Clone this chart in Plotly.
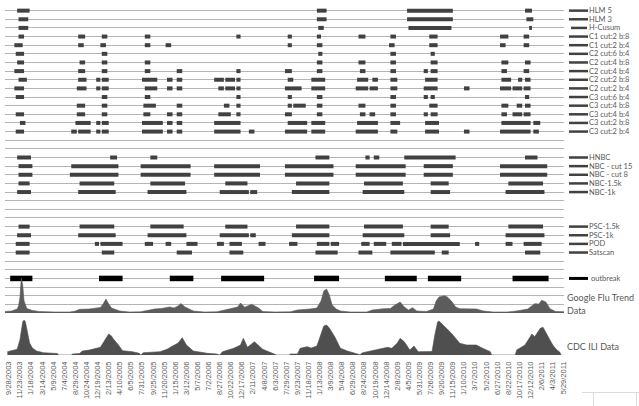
import numpy as np
import pandas as pd
import plotly.graph_objects as go

# ---------------- data ----------------
WEEK0 = pd.Timestamp("2003-09-28")          # first weekly category
LAST_TICK = pd.Timestamp("2011-05-29")

# alarm periods per method, as (first week, last week) indices since WEEK0
hlm5 = [(6, 15), (222, 229), (287, 320), (372, 377)]
hlm3 = [(7, 14), (222, 229), (287, 320), (373, 378)]
hcusum = [(7, 14), (223, 227), (288, 319), (375, 377)]
c1_2_8 = [(7, 11), (50, 55), (67, 71), (98, 102), (164, 167), (201, 204), (222, 225), (252, 257),
          (275, 279), (303, 309), (354, 360), (371, 375)]
c1_2_4 = [(4, 10), (50, 54), (66, 70), (98, 102), (113, 117), (201, 204), (222, 226), (274, 278),
          (303, 309), (354, 358), (371, 375)]
c2_6_4 = [(5, 11), (67, 71), (223, 226), (275, 279), (304, 307)]
c2_4_8 = [(6, 11), (51, 55), (67, 71), (98, 102), (222, 226), (252, 257), (275, 279), (304, 309),
          (355, 360), (372, 376)]
c2_4_4 = [(4, 11), (50, 55), (67, 71), (98, 102), (121, 125), (164, 167), (199, 204), (222, 226),
          (253, 257), (275, 279), (299, 302), (304, 309), (355, 359), (371, 375)]
c2_2_8 = [(7, 13), (50, 56), (63, 66), (67, 72), (96, 107), (114, 118), (121, 125), (148, 155),
          (156, 163), (164, 167), (201, 205), (218, 228), (251, 259), (262, 266), (275, 280),
          (300, 309), (355, 362), (367, 370), (372, 376)]
c2_2_4 = [(4, 11), (49, 56), (63, 66), (67, 72), (98, 107), (114, 118), (121, 125), (151, 155),
          (156, 163), (164, 167), (199, 211), (218, 228), (250, 259), (260, 266), (275, 280),
          (299, 309), (328, 332), (354, 362), (363, 370), (371, 376)]
c3_6_4 = [(5, 11), (67, 71), (98, 102), (164, 167), (201, 204), (222, 226), (275, 279), (299, 302),
          (304, 307), (372, 375)]
c3_4_8 = [(49, 55), (67, 71), (97, 106), (121, 125), (155, 159), (164, 167), (201, 204), (205, 214),
          (222, 226), (252, 257), (275, 279), (303, 309), (355, 360), (366, 370), (372, 376)]
c3_4_4 = [(5, 11), (49, 55), (67, 71), (97, 102), (114, 118), (121, 125), (151, 160), (164, 167),
          (199, 204), (222, 226), (253, 257), (260, 264), (275, 279), (299, 302), (304, 309),
          (355, 359), (363, 370), (371, 376)]
c3_2_8 = [(8, 12), (48, 59), (63, 66), (67, 72), (96, 111), (114, 118), (121, 125), (148, 167),
          (201, 215), (218, 228), (251, 266), (275, 282), (300, 310), (355, 376), (378, 383)]
c3_2_4 = [(5, 11), (45, 49), (50, 59), (63, 66), (67, 72), (96, 111), (114, 118), (121, 125),
          (148, 167), (173, 177), (199, 215), (218, 228), (250, 266), (275, 280), (300, 310),
          (328, 332), (354, 376), (378, 382)]
hnbc = [(6, 16), (73, 78), (102, 107), (221, 231), (257, 260), (263, 267), (285, 322), (372, 381)]
nbc_cut15 = [(7, 17), (45, 79), (95, 131), (148, 181), (199, 234), (250, 286), (299, 320), (354, 388)]
nbc_cut8 = [(7, 17), (44, 79), (95, 131), (148, 181), (199, 234), (250, 286), (299, 320), (354, 388)]
nbc_15k = [(7, 15), (51, 76), (102, 127), (156, 172), (207, 231), (256, 284), (304, 317), (360, 385)]
nbc_1k = [(6, 16), (50, 77), (100, 128), (152, 173), (174, 179), (204, 231), (255, 285), (304, 318),
          (358, 386)]
psc_15k = [(7, 15), (51, 76), (102, 126), (156, 172), (207, 231), (256, 284), (304, 317), (360, 385)]
psc_1k = [(6, 16), (50, 77), (100, 128), (152, 173), (174, 178), (204, 231), (255, 285), (304, 318),
          (358, 386)]
pod = [(5, 15), (62, 65), (66, 82), (98, 104), (113, 117), (128, 136), (150, 155), (159, 168),
       (180, 185), (202, 208), (222, 231), (232, 238), (254, 260), (263, 272), (276, 283),
       (284, 325), (336, 339), (358, 363), (371, 384)]
satscan = [(5, 15), (67, 76), (121, 132), (159, 169), (221, 237), (252, 262), (275, 307), (312, 317),
           (372, 383)]
outbreak = [(1, 17), (65, 82), (116, 133), (153, 184), (220, 238), (271, 294), (302, 326), (363, 389)]

method_names = ["HLM 5", "HLM 3", "H-Cusum", "C1 cut:2 b:8", "C1 cut:2 b:4", "C2 cut:6 b:4",
                "C2 cut:4 b:8", "C2 cut:4 b:4", "C2 cut:2 b:8", "C2 cut:2 b:4", "C3 cut:6 b:4",
                "C3 cut:4 b:8", "C3 cut:4 b:4", "C3 cut:2 b:8", "C3 cut:2 b:4",
                "HNBC", "NBC - cut 15", "NBC - cut 8", "NBC-1.5k", "NBC-1k",
                "PSC-1.5k", "PSC-1k", "POD", "Satscan", "outbreak"]
method_rows = [35, 34, 33, 32, 31, 30, 29, 28, 27, 26, 25, 24, 23, 22, 21,
               18, 17, 16, 15, 14, 10, 9, 8, 7, 4]
method_segments = [hlm5, hlm3, hcusum, c1_2_8, c1_2_4, c2_6_4, c2_4_8, c2_4_4, c2_2_8, c2_2_4,
                   c3_6_4, c3_4_8, c3_4_4, c3_2_8, c3_2_4, hnbc, nbc_cut15, nbc_cut8, nbc_15k,
                   nbc_1k, psc_15k, psc_1k, pod, satscan, outbreak]

# Google Flu Trend (weekly index, estimated value)
gft_week = [-3, 2, 5, 6, 7, 8, 9, 10, 11, 12, 13, 17, 22, 33, 44, 48, 51, 58, 62, 66, 68, 70, 72, 74,
            80, 87, 95, 98, 105, 110, 113, 116, 119, 122, 124, 127, 133, 141, 150, 156, 162, 165,
            167, 170, 175, 180, 183, 192, 203, 208, 217, 222, 225, 227, 229, 231, 233, 236, 239, 246,
            258, 262, 270, 275, 278, 282, 285, 288, 291, 294, 301, 306, 308, 310, 314, 316, 319,
            322, 325, 332, 337, 342, 349, 359, 366, 374, 377, 379, 382, 384, 387, 390, 394, 401]
gft_val = [375, 500, 875, 1000, 1750, 3750, 8750, 7000, 3000, 1750, 1125, 625, 375, 250, 250, 500,
           925, 1000, 1125, 1375, 2250, 3500, 2250, 1250, 500, 250, 300, 500, 1000, 1125, 1250, 1500,
           1250, 1750, 2375, 1500, 500, 250, 300, 750, 1100, 1500, 2500, 1425, 2175, 1250, 375, 250,
           300, 750, 1000, 1250, 3000, 5500, 6000, 4500, 2000, 1000, 500, 250, 250, 750, 1075, 1125,
           1925, 2750, 1500, 750, 1325, 500, 375, 1000, 3000, 4000, 4325, 4000, 3000, 1500, 1075,
           1000, 1000, 500, 250, 250, 500, 1000, 1925, 2325, 2250, 3175, 2750, 1075, 375, 325]

# CDC ILI (weekly index, estimated % ILI; 0 where missing)
cdc_week = [-1, 6, 8, 9, 10, 11, 12, 13, 14, 15, 17, 20, 25, 30, 35, 36, 45, 46, 51, 53, 58, 66, 68,
            71, 72, 74, 75, 79, 82, 89, 94, 95, 97, 109, 114, 118, 122, 125, 128, 133, 143, 150, 152,
            154, 162, 167, 169, 172, 174, 177, 183, 190, 193, 202, 203, 208, 210, 215, 218, 222, 224,
            227, 229, 231, 235, 239, 244, 251, 253, 255, 265, 273, 276, 280, 282, 285, 289, 292, 295,
            305, 307, 309, 310, 313, 316, 319, 322, 325, 330, 337, 340, 345, 347, 348, 365, 366, 372,
            377, 379, 383, 385, 388, 392, 395, 397, 398]
cdc_val = [0.66, 1.14, 3.0, 4.8, 6.6, 7.0, 6.6, 5.2, 3.6, 2.4, 1.4, 0.8, 0.46, 0.34, 0.3, 0, 0, 0.2,
           0.3, 0.8, 1.0, 1.54, 2.4, 3.66, 4.2, 3.8, 3.34, 2.0, 0.86, 0.66, 0.34, 0, 0.46, 0.66, 1.14,
           1.8, 2.4, 3.46, 2.0, 0.8, 0.34, 0.2, 0, 0.66, 1.34, 2.0, 3.34, 1.54, 2.0, 2.66, 1.14, 0.34,
           0, 0, 0.2, 0.2, 1.34, 1.66, 1.4, 1.8, 3.6, 5.8, 6.0, 5.4, 3.6, 1.34, 0.8, 0.34, 0.06, 0.46,
           1.0, 1.54, 1.34, 2.4, 3.34, 2.66, 1.0, 1.8, 0.66, 0.7, 4.0, 6.6, 6.8, 6.0, 5.0, 4.34, 3.34,
           2.34, 2.0, 2.0, 1.54, 1.0, 0.66, 0, 0, 1.0, 2.0, 4.2, 3.66, 5.34, 5.54, 4.0, 2.0, 1.0, 0.6, 0]


def wk(w):
    return WEEK0 + pd.to_timedelta(np.asarray(w, dtype=float) * 7, unit="D")


tick_dates = pd.date_range(WEEK0, LAST_TICK, freq="56D")
tick_text = [f"{d.month}/{d.day}/{d.year}" for d in tick_dates]

# ---------------- figure ----------------
GRAY_TXT = "#595959"
LABEL_FONT = "Lato, Liberation Sans, Arial"
fig = go.Figure()

fig.add_trace(go.Scatter(x=wk(gft_week), y=gft_val, yaxis="y3", mode="lines",
                         line=dict(color="#5c5c5c", width=0.6), fill="tozeroy",
                         fillcolor="#5c5c5c", hoverinfo="skip"))
fig.add_trace(go.Scatter(x=wk(cdc_week), y=cdc_val, yaxis="y2", mode="lines",
                         line=dict(color="#4f4f4f", width=0.6), fill="tozeroy",
                         fillcolor="#4f4f4f", hoverinfo="skip"))

for name, row, segs in zip(method_names, method_rows, method_segments):
    xs, ys = [], []
    for a, b in segs:
        xs += [wk(a), wk(b), None]
        ys += [row, row, None]
    is_ob = name == "outbreak"
    fig.add_trace(go.Scatter(x=xs, y=ys, mode="lines", name=name, connectgaps=False,
                             line=dict(color="#000000" if is_ob else "#414141",
                                       width=5.5 if is_ob else 4)))

PLOT_L, PLOT_R = 5, 564
W_PX = PLOT_R - PLOT_L


def px2paper(px):
    return (px - PLOT_L) / W_PX


shapes, annotations = [], []
for name, row in zip(method_names, method_rows):
    is_ob = name == "outbreak"
    x0 = 571 if name == "H-Cusum" else 569
    x1 = 587 if name == "H-Cusum" else 588
    shapes.append(dict(type="line", xref="paper", yref="y", x0=px2paper(x0), x1=px2paper(x1),
                       y0=row, y1=row,
                       line=dict(color="#000000" if is_ob else "#414141", width=3 if is_ob else 2.5)))
    annotations.append(dict(xref="paper", yref="y", x=px2paper(588 if not is_ob else 590), y=row,
                            text=name, showarrow=False, xanchor="left", yanchor="middle",
                            font=dict(family=LABEL_FONT, size=7.5, color=GRAY_TXT), borderpad=0))

side_font = dict(family=LABEL_FONT, size=9, color=GRAY_TXT)
annotations.append(dict(xref="paper", yref="y", x=px2paper(565.5), y=(313 - 298) / 8.63,
                        text="Google Flu Trend", showarrow=False, xanchor="left",
                        yanchor="middle", font=side_font, borderpad=0))
annotations.append(dict(xref="paper", yref="y", x=px2paper(565.5), y=(313 - 310.5) / 8.63,
                        text="Data", showarrow=False, xanchor="left",
                        yanchor="middle", font=side_font, borderpad=0))
annotations.append(dict(xref="paper", yref="y2", x=px2paper(566), y=1.8,
                        text="CDC ILI Data", showarrow=False, xanchor="left",
                        yanchor="middle", font=side_font, borderpad=0))

# faint table-cell border in the lower right corner
H_PLOT = 406 - 2 - 51


def py2paper(py):
    return (355 - py) / H_PLOT


shapes.append(dict(type="line", xref="paper", yref="paper", x0=px2paper(582), x1=px2paper(639),
                   y0=py2paper(392.5), y1=py2paper(392.5), line=dict(color="#dcdcdc", width=1)))
for vx in (593.5, 636.5):
    shapes.append(dict(type="line", xref="paper", yref="paper", x0=px2paper(vx), x1=px2paper(vx),
                       y0=py2paper(392.5), y1=py2paper(406), line=dict(color="#dcdcdc", width=1)))

x_left = WEEK0 + pd.Timedelta(days=-2.74 * 7)
x_right = WEEK0 + pd.Timedelta(days=400.1 * 7)

fig.update_layout(
    width=639, height=406,
    margin=dict(l=PLOT_L, r=639 - PLOT_R, t=2, b=51, autoexpand=False),
    plot_bgcolor="white", paper_bgcolor="white",
    showlegend=False,
    font=dict(family="Liberation Sans, Arial", color=GRAY_TXT),
    xaxis=dict(type="date", range=[x_left, x_right], anchor="y2", tickmode="array",
               tickvals=list(tick_dates), ticktext=tick_text, tickangle=-90,
               tickfont=dict(size=7.5, color=GRAY_TXT), showgrid=False, zeroline=False,
               showline=False, ticks="", ticklen=0, ticklabelstandoff=4, automargin=False),
    yaxis=dict(domain=[42 / H_PLOT, 1], range=[0, 36], tick0=0, dtick=1, showgrid=True,
               gridcolor="#b4b4b4", gridwidth=1, showticklabels=False, zeroline=False,
               showline=False, ticks=""),
    yaxis2=dict(domain=[0, 36 / H_PLOT], range=[0, 7.2], visible=False),
    yaxis3=dict(overlaying="y", range=[0, 36 * 2157.5], visible=False),
    shapes=shapes, annotations=annotations,
)

fig.write_html("out.html", config={"displayModeBar": False},
               post_script="document.body.style.margin='0';document.body.style.padding='0';")
